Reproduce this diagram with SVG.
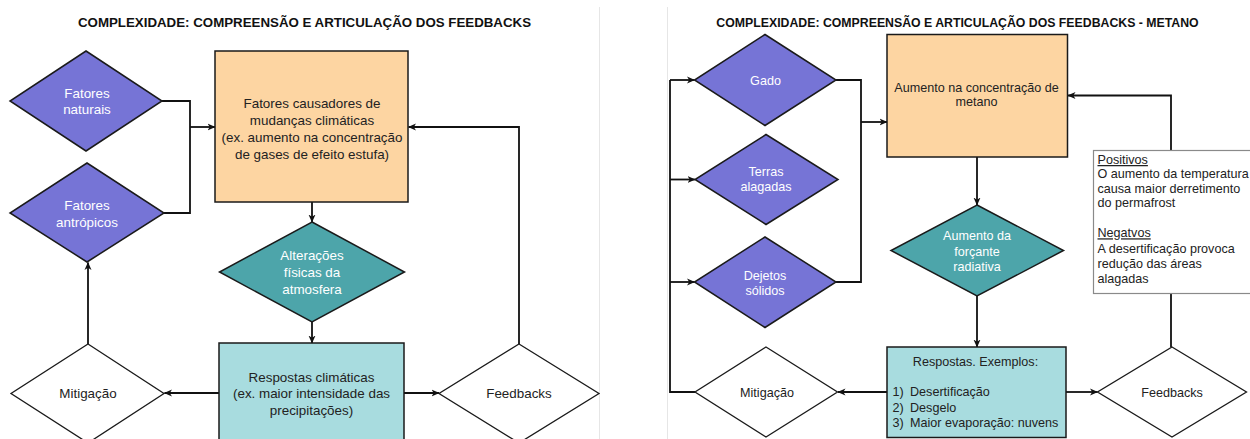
<svg xmlns="http://www.w3.org/2000/svg" width="1250" height="439" viewBox="0 0 1250 439">
<defs>
<style>
text{font-family:"Liberation Sans",Arial,Helvetica,sans-serif;fill:#222}
.t{font-weight:bold;fill:#111}
.L{font-size:13.4px}
.R{font-size:12.6px}
.w{fill:#fff}
.purple{fill:#7674d6;stroke:#1a1a1a;stroke-width:1.5}
.teal{fill:#4da5aa;stroke:#1a1a1a;stroke-width:1.5}
.orange{fill:#fdd5a2;stroke:#1a1a1a;stroke-width:1.5}
.cyan{fill:#a8dcdf;stroke:#1a1a1a;stroke-width:1.5}
.white{fill:#fff;stroke:#1a1a1a;stroke-width:1.3}
.c{fill:none;stroke:#111;stroke-width:1.8}
.a{marker-end:url(#ah)}
.panel{stroke:#e6e6e6;stroke-width:1}
</style>
<marker id="ah" markerUnits="userSpaceOnUse" viewBox="0 0 8 8" refX="7.5" refY="4" markerWidth="8" markerHeight="8" orient="auto">
<path d="M0,0.5 L8,4 L0,7.5 L2.2,4 z" fill="#111"/>
</marker>
</defs>
<rect width="1250" height="439" fill="#fff"/>
<line class="panel" x1="599.5" y1="7" x2="599.5" y2="439"/>
<line class="panel" x1="667.5" y1="7" x2="667.5" y2="439"/>

<!-- ===== LEFT PANEL ===== -->
<text class="t" x="304.5" y="26.5" font-size="13.3" text-anchor="middle">COMPLEXIDADE: COMPREENSÃO E ARTICULAÇÃO DOS FEEDBACKS</text>

<g id="connectors-left">
<polyline class="c" points="162,101 190,101 190,213 164,213"/>
<line class="c a" x1="190" y1="127" x2="215" y2="127"/>
<line class="c a" x1="312" y1="202" x2="312" y2="222"/>
<line class="c a" x1="312" y1="322" x2="312" y2="343"/>
<line class="c a" x1="219" y1="393" x2="164.5" y2="393"/>
<line class="c a" x1="404" y1="393" x2="439" y2="393"/>
<line class="c a" x1="88" y1="344" x2="88" y2="262.5"/>
<polyline class="c a" points="519,344 519,127 408.5,127"/>
</g>

<g id="fatores-causadores">
<rect class="orange" x="215" y="51" width="193" height="151"/>
<text class="L" text-anchor="middle"><tspan x="312" y="107.5">Fatores causadores de</tspan><tspan x="312" y="124.5">mudanças climáticas</tspan><tspan x="312" y="141.5">(ex. aumento na concentração</tspan><tspan x="312" y="158.5">de gases de efeito estufa)</tspan></text>
</g>
<g id="fatores-naturais">
<polygon class="purple" points="86,51 162,101 86,151 10,101"/>
<text class="L w" text-anchor="middle"><tspan x="87" y="97.5">Fatores</tspan><tspan x="87" y="114">naturais</tspan></text>
</g>
<g id="fatores-antropicos">
<polygon class="purple" points="87,163 164,213 87,262 10,213"/>
<text class="L w" text-anchor="middle"><tspan x="87" y="209.5">Fatores</tspan><tspan x="87" y="226.5">antrópicos</tspan></text>
</g>
<g id="alteracoes">
<polygon class="teal" points="312,222 404.5,272 312,322 219.5,272"/>
<text class="L w" text-anchor="middle"><tspan x="312" y="260">Alterações</tspan><tspan x="312" y="277">físicas da</tspan><tspan x="312" y="294">atmosfera</tspan></text>
</g>
<g id="respostas-climaticas">
<rect class="cyan" x="219" y="343" width="185" height="110"/>
<text class="L" text-anchor="middle"><tspan x="311.5" y="381.5">Respostas climáticas</tspan><tspan x="311.5" y="398">(ex. maior intensidade das</tspan><tspan x="311.5" y="414.5">precipitações)</tspan></text>
</g>
<g id="mitigacao-left">
<polygon class="white" points="88,344 164,393.5 88,443 11,393.5"/>
<text class="L" x="88" y="398" text-anchor="middle">Mitigação</text>
</g>
<g id="feedbacks-left">
<polygon class="white" points="519,344 599,393.5 519,443 439,393.5"/>
<text class="L" x="519" y="398" text-anchor="middle">Feedbacks</text>
</g>

<!-- ===== RIGHT PANEL ===== -->
<text class="t" x="957.5" y="26.5" font-size="12.3" text-anchor="middle">COMPLEXIDADE: COMPREENSÃO E ARTICULAÇÃO DOS FEEDBACKS - METANO</text>

<g id="connectors-right">
<polyline class="c" points="836,80 861,80 861,282 836,282"/>
<line class="c a" x1="861" y1="122" x2="887" y2="122"/>
<polyline class="c" points="695,392 670,392 670,80"/>
<line class="c a" x1="670" y1="80" x2="694.5" y2="80"/>
<line class="c a" x1="670" y1="179.5" x2="695" y2="179.5"/>
<line class="c a" x1="670" y1="282" x2="694.5" y2="282"/>
<line class="c a" x1="977" y1="157" x2="977" y2="205"/>
<line class="c a" x1="977" y1="296" x2="977" y2="347"/>
<line class="c a" x1="887" y1="392" x2="838" y2="392"/>
<line class="c a" x1="1066" y1="392" x2="1097.5" y2="392"/>
<polyline class="c a" points="1171,347 1171,95.5 1068,95.5"/>
</g>

<g id="aumento-metano">
<rect class="orange" x="887" y="34.5" width="180.5" height="122.5"/>
<text class="R" text-anchor="middle"><tspan x="976.5" y="91.7">Aumento na concentração de</tspan><tspan x="976.5" y="106">metano</tspan></text>
</g>
<g id="gado">
<polygon class="purple" points="765,34.5 836,80 765,125.5 694.5,80"/>
<text class="R w" x="765.5" y="84.5" text-anchor="middle">Gado</text>
</g>
<g id="terras-alagadas">
<polygon class="purple" points="766,134.5 838,179.5 766,224.5 695,179.5"/>
<text class="R w" text-anchor="middle"><tspan x="766" y="176">Terras</tspan><tspan x="766" y="190.7">alagadas</tspan></text>
</g>
<g id="dejetos-solidos">
<polygon class="purple" points="765,237 836,282 765,327.5 694.5,282"/>
<text class="R w" text-anchor="middle"><tspan x="765" y="280">Dejetos</tspan><tspan x="765" y="294.5">sólidos</tspan></text>
</g>
<g id="forcante-radiativa">
<polygon class="teal" points="977,205 1063.5,250.5 977,296 891,250.5"/>
<text class="R w" text-anchor="middle"><tspan x="977" y="240">Aumento da</tspan><tspan x="977" y="255.5">forçante</tspan><tspan x="977" y="270.5">radiativa</tspan></text>
</g>
<g id="respostas-exemplos">
<rect class="cyan" x="887" y="347" width="179" height="90.5"/>
<text class="R" x="975.5" y="365.7" text-anchor="middle">Respostas. Exemplos:</text>
<text class="R"><tspan x="892.5" y="395.7">1)</tspan><tspan x="892.5" y="411.5">2)</tspan><tspan x="892.5" y="426.7">3)</tspan></text>
<text class="R"><tspan x="910" y="395.7">Desertificação</tspan><tspan x="910" y="411.5">Desgelo</tspan><tspan x="910" y="426.7">Maior evaporação: nuvens</tspan></text>
</g>
<g id="mitigacao-right">
<polygon class="white" points="766,347 837.5,392 766,437 695,392"/>
<text class="R" x="767" y="396.5" text-anchor="middle">Mitigação</text>
</g>
<g id="feedbacks-right">
<polygon class="white" points="1172,347 1246.5,392 1172,437 1097.5,392"/>
<text class="R" x="1172" y="396.5" text-anchor="middle">Feedbacks</text>
</g>
<g id="nota-feedbacks">
<rect x="1093.5" y="150.5" width="170" height="143" fill="#fff" stroke="#8a8a8a" stroke-width="1.2"/>
<text class="R"><tspan x="1097.5" y="164" text-decoration="underline">Positivos</tspan><tspan x="1097.5" y="178">O aumento da temperatura</tspan><tspan x="1097.5" y="192.5">causa maior derretimento</tspan><tspan x="1097.5" y="207">do permafrost</tspan><tspan x="1097.5" y="237.3" text-decoration="underline">Negatvos</tspan><tspan x="1097.5" y="252.5">A desertificação provoca</tspan><tspan x="1097.5" y="267.5">redução das áreas</tspan><tspan x="1097.5" y="282.5">alagadas</tspan></text>
</g>
</svg>
